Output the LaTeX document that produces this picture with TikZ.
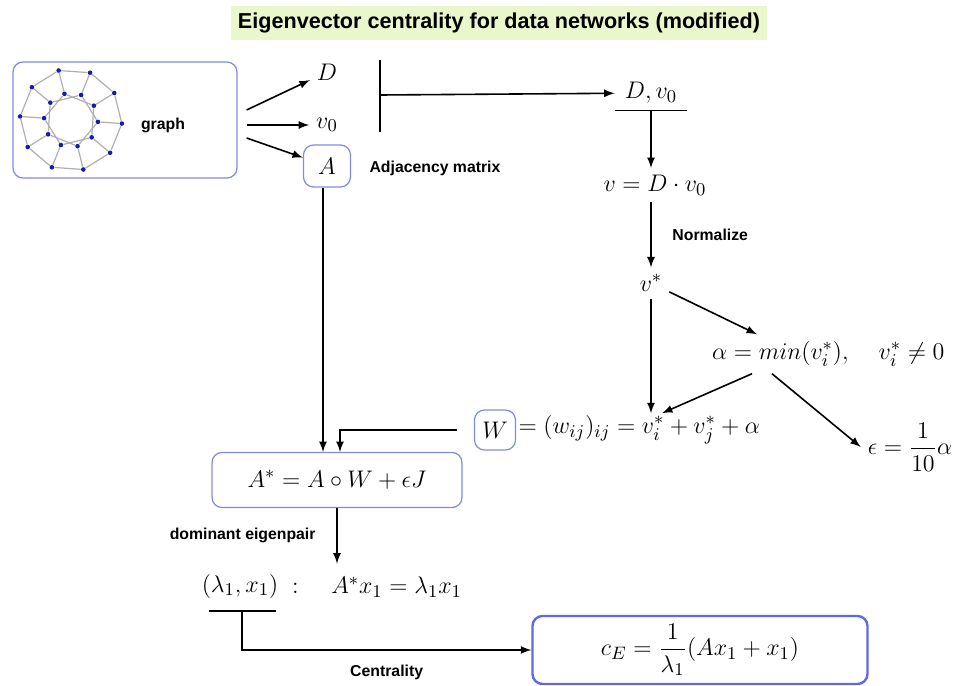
\documentclass[tikz,border=0pt]{standalone}
\usepackage{amsmath}
\usepackage{amssymb}
\usepackage{fontspec}
\setsansfont{Liberation Sans}
\usetikzlibrary{positioning,calc,arrows}

\definecolor{boxblue}{RGB}{128,138,228}
\definecolor{cboxblue}{RGB}{95,105,232}
\definecolor{titlegreen}{RGB}{234,246,204}
\definecolor{dotblue}{RGB}{25,25,170}
\definecolor{edgegray}{RGB}{175,175,175}

\begin{document}
\begin{tikzpicture}[x=0.5pt,y=-0.5pt,>=latex,
	arr/.style={thick,->},
	mth/.style={font=\fontsize{13}{16}\selectfont},
	lbl/.style={font=\fontsize{7.9}{9}\sffamily\bfseries},
	bbox/.style={draw=boxblue,line width=0.6pt,rounded corners=5pt},
	gdot/.style={circle,fill=dotblue,inner sep=0pt,minimum size=2.3pt},
	gedge/.style={draw=edgegray,line width=0.6pt}]
	\useasboundingbox (0,0) rectangle (960,686);

	% title
	\node[fill=titlegreen,minimum width=266pt,minimum height=15pt,font=\fontsize{10.8}{12}\sffamily\bfseries] (title) at (499,23) {Eigenvector centrality for data networks (modified)};

	% input graph
	\node[bbox,minimum width=112pt,minimum height=58pt] (g) at (125,120) {};
	\node[lbl] (gl) at (163,125) {graph};
	\begin{scope}[shift={(71,120)}]
		\foreach \k in {0,...,9} {
			\node[gdot] (o\k) at (4+36*\k:51) {};
			\node[gdot] (i\k) at (4+36*\k:27) {};
		}
		\foreach \k in {0,...,9} {
			\pgfmathtruncatemacro\n{mod(\k+1,10)}
			\pgfmathtruncatemacro\m{mod(\k+2,10)}
			\draw[gedge] (o\k) -- (o\n);
			\draw[gedge] (o\k) -- (i\k);
			\draw[gedge] (i\k) -- (i\m);
		}
	\end{scope}

	% D, v_0 and A
	\node[mth] (d) at (327,72) {$D$};
	\node[mth] (vz) at (327,125) {$v_0$};
	\node[mth,bbox,minimum width=23.5pt,minimum height=21pt] (a) at (327,166) {$A$};
	\node[lbl] (adj) at (435,168) {Adjacency matrix};
	\draw[arr] ([shift={(9,-10)}]g.east) -- (d);
	\draw[arr] ([shift={(9,5)}]g.east) -- (vz);
	\draw[arr] ([shift={(9,18)}]g.east) -- (a);

	% right branch
	\coordinate (bt) at (380,60);
	\coordinate (bb) at (380,132);
	\coordinate (bm) at (380,95);
	\draw[thick] (bt) -- (bb);
	\node[mth,minimum width=36pt] (dv) at (651,93) {$D, v_0$};
	\node[mth] (v) at (655,185) {$v = D\cdot v_0$};
	\node[mth] (vs) at (651,283) {$v^*$};
	\node[mth,anchor=west] (al) at (705,354) {$\alpha = min(v_i^*), \quad v_i^* \neq 0$};
	\node[mth] (eps) at (910,447) {$\epsilon = \dfrac{1}{10}\alpha$};
	\node[mth,bbox,minimum width=20.5pt,minimum height=20pt] (w) at (495,430) {$W$};
	\node[mth,right=0pt of w,inner sep=1pt] (weq) {$= (w_{ij})_{ij} = v_i^* + v_j^* + \alpha$};

	\draw[arr] (bm) -- (dv);
	\draw[thick] (dv.south west) -- (dv.south east);
	\draw[arr] (dv.south) -- (dv.south |- v.north);
	\draw[arr] (vs |- v.south) -- (vs) node[midway,right=7pt,lbl] {Normalize};
	\draw[arr] (vs) -- (vs |- weq.north);
	\draw[arr] (vs) -- ([shift={(52,0)}]al.north west);
	\draw[arr] ([shift={(47,0)}]al.south west) -- ($(vs |- weq.north)+(11,0)$);
	\draw[arr] ([shift={(67,0)}]al.south west) -- (eps.west);

	% modified adjacency matrix
	\node[mth,bbox,minimum width=125pt,minimum height=27.5pt] (as) at (337,480) {$A^* = A\circ W + \epsilon J$};
	\draw[arr] ([shift={(-4,0)}]a.south) -- ([shift={(-14,0)}]as.north);
	\draw[arr] ([shift={(-17,0)}]w.west) -| ([shift={(3,0)}]as.north);

	% eigenpair and centrality
	\node[mth] (lx) at (240,586) {$(\lambda_1, x_1)$};
	\node[mth,anchor=west] (eq) at (285,587) {$:\quad A^*x_1 = \lambda_1 x_1$};
	\draw[arr] (as.south) -- ($(as.south |- eq.north)+(0,-6)$) node[midway,left=7pt,lbl] {dominant eigenpair};
	\draw[thick] ([shift={(14,6)}]lx.south west) -- ([shift={(-9,6)}]lx.south east);
	\node[mth,draw=cboxblue,line width=1.2pt,rounded corners=5pt,minimum width=167.5pt,minimum height=34pt] (ce) at (700,650) {$c_E = \dfrac{1}{\lambda_1}(Ax_1 + x_1)$};
	\draw[arr] ([shift={(2,6)}]lx.south) |- (ce.west) node[pos=0.75,below=4pt,lbl] {Centrality};
\end{tikzpicture}
\end{document}
